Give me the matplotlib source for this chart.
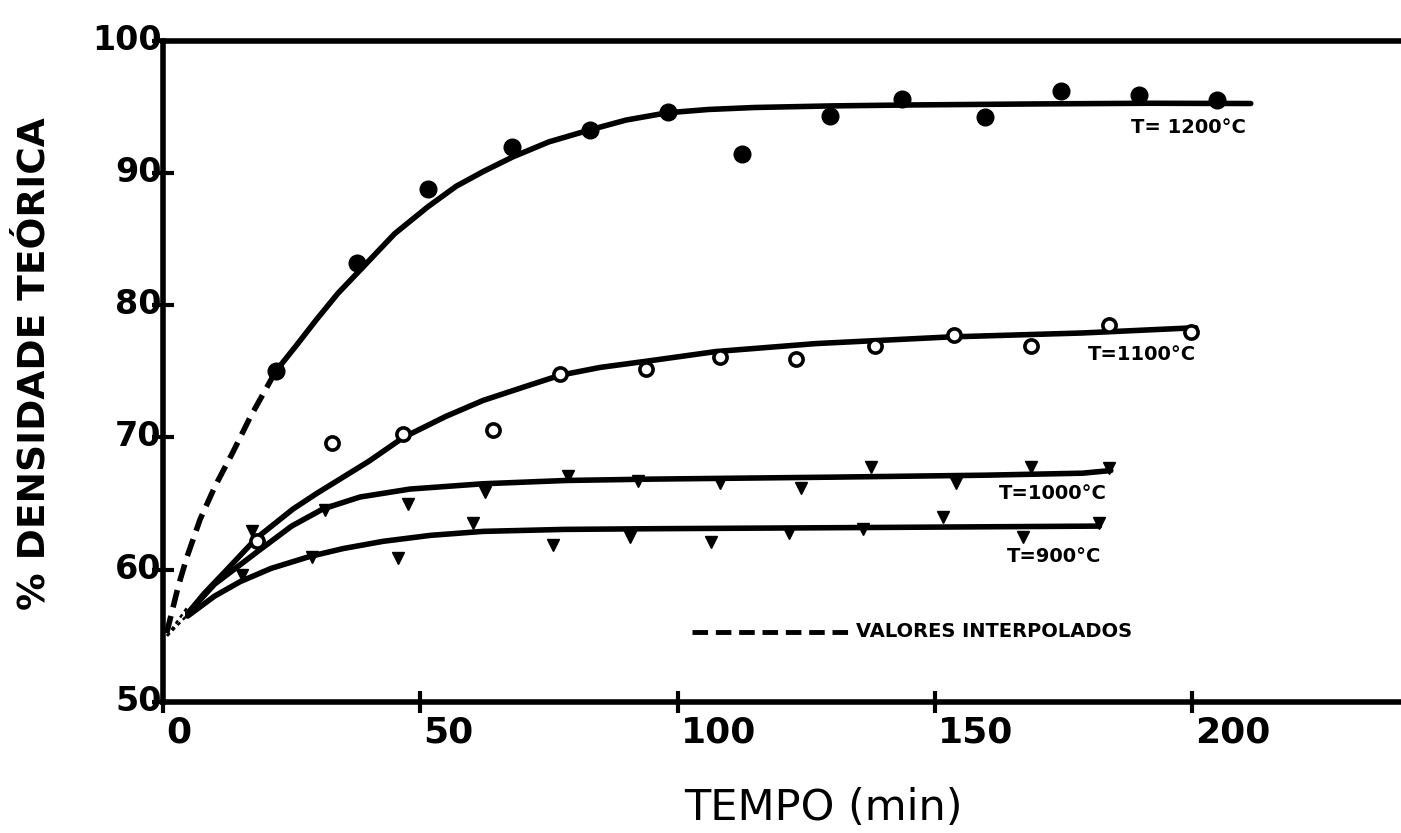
import matplotlib
matplotlib.use("Agg")
import matplotlib.pyplot as plt
import matplotlib.transforms as mtransforms

# ---------------- data ----------------
x_ticks = [0, 50, 100, 150, 200]
y_ticks = [50, 60, 70, 80, 90, 100]
x_tick_labels = ["0", "50", "100", "150", "200"]
y_tick_labels = ["50", "60", "70", "80", "90", "100"]

# measured points (time in min, % theoretical density)
t_1200 = [21.9, 37.7, 51.5, 67.9, 82.9, 98.1, 112.6, 129.7, 143.7, 159.8, 174.5, 189.7, 204.9]
d_1200 = [75.0, 83.2, 88.8, 92.0, 93.25, 94.6, 91.4, 94.3, 95.6, 94.2, 96.2, 95.9, 95.5]

t_1100 = [18.2, 32.8, 46.7, 64.1, 77.1, 93.9, 108.2, 123.0, 138.3, 153.8, 168.7, 183.9, 199.7]
d_1100 = [62.2, 69.6, 70.25, 70.6, 74.8, 75.2, 76.1, 75.9, 76.9, 77.75, 76.9, 78.5, 78.0]

t_1000 = [17.2, 31.5, 47.6, 62.5, 78.7, 92.3, 108.2, 124.0, 137.6, 154.1, 168.7, 183.9]
d_1000 = [62.9, 64.5, 65.0, 65.9, 67.05, 66.7, 66.55, 66.2, 67.8, 66.55, 67.8, 67.7]

t_900 = [15.3, 28.9, 45.7, 60.3, 75.8, 90.7, 106.5, 121.7, 136.0, 151.5, 167.1, 182.0]
d_900 = [59.6, 61.0, 60.9, 63.5, 61.9, 62.5, 62.1, 62.8, 63.1, 64.0, 62.5, 63.5]

# hand-drawn fitted curves
c1200_dash_t = [0.7, 3.0, 4.6, 7.2, 10.1, 13.6, 16.9, 21.9]
c1200_dash_d = [55.2, 58.8, 60.9, 63.8, 66.3, 68.9, 71.5, 75.0]
c1200_t = [21.9, 26.0, 29.8, 34.0, 38.9, 45.0, 51.5, 57.0, 62.2, 67.9, 75.0, 82.9,
           90.0, 98.0, 106.0, 115.0, 130.0, 145.0, 170.0, 191.7, 211.4]
c1200_d = [75.0, 77.0, 78.9, 80.9, 82.9, 85.4, 87.45, 89.0, 90.1, 91.2, 92.35, 93.25,
           94.0, 94.55, 94.8, 94.95, 95.07, 95.14, 95.22, 95.27, 95.25]

c1100_t = [4.8, 8.0, 12.4, 18.2, 25.3, 30.0, 35.0, 40.0, 46.7, 55.0, 62.2, 70.0,
           77.1, 85.0, 94.6, 107.5, 126.9, 152.8, 178.6, 200.7]
c1100_d = [56.7, 58.2, 60.0, 62.4, 64.6, 65.8, 67.0, 68.2, 70.0, 71.6, 72.8, 73.8,
           74.7, 75.3, 75.8, 76.5, 77.1, 77.6, 77.9, 78.3]

c1000_t = [4.8, 10.0, 18.8, 25.0, 31.1, 38.3, 48.0, 62.2, 78.4, 94.6, 130.0, 160.0, 178.7, 184.2]
c1000_d = [56.7, 58.9, 61.5, 63.3, 64.6, 65.5, 66.1, 66.5, 66.75, 66.85, 67.0, 67.15, 67.3, 67.5]

c900_t = [4.8, 10.0, 15.0, 21.0, 28.5, 35.0, 42.8, 52.0, 62.2, 78.0, 94.6, 140.0, 182.0]
c900_d = [56.5, 58.0, 59.1, 60.1, 61.0, 61.6, 62.15, 62.6, 62.9, 63.05, 63.1, 63.2, 63.3]

tail_t = [0.8, 4.8]
tail_d = [55.0, 56.6]

series_labels = ["T= 1200°C", "T=1100°C", "T=1000°C", "T=900°C"]
legend_text = "VALORES INTERPOLADOS"

# ---------------- drawing ----------------
W, H = 1401, 833
fig = plt.figure(figsize=(W / 100, H / 100), dpi=100)
ax = fig.add_axes([163 / W, (H - 702) / H, 1 - 163 / W, (702 - 40.7) / H])
ax.set_xlim(0, 240.6)
ax.set_ylim(50, 100)

for s in ["left", "top", "bottom"]:
    ax.spines[s].set_linewidth(4)
    ax.spines[s].set_color("black")
ax.spines["right"].set_visible(False)

ax.set_xticks(x_ticks)
ax.set_yticks(y_ticks)
ax.set_xticklabels(x_tick_labels, fontsize=26, fontweight="bold", ha="left")
ax.set_yticklabels(y_tick_labels, fontsize=24, fontweight="bold")
ax.tick_params(axis="both", direction="inout", length=16, width=3, color="black")
ax.tick_params(axis="y", pad=-7)
ax.tick_params(axis="x", pad=2)

dx = mtransforms.ScaledTranslation(3 / 100, 0, fig.dpi_scale_trans)
for lab in ax.get_xticklabels():
    lab.set_transform(lab.get_transform() + dx)
dy = mtransforms.ScaledTranslation(0, 4 / 100, fig.dpi_scale_trans)
for lab in ax.get_yticklabels():
    lab.set_transform(lab.get_transform() + dy)

lw = 4
# dotted extrapolation tails
ax.plot(tail_t, tail_d, color="black", lw=1.8, ls=(0, (1.5, 1.5)))
ax.plot([tail_t[0], tail_t[1]], [tail_d[0], tail_d[1] + 0.6], color="black", lw=1.8, ls=(0, (1.5, 1.5)))

# curves
ax.plot(c1200_dash_t, c1200_dash_d, color="black", lw=lw, ls=(0, (3.2, 1.6)), solid_capstyle="butt")
for ct, cd in [(c1200_t, c1200_d), (c1100_t, c1100_d), (c1000_t, c1000_d), (c900_t, c900_d)]:
    ax.plot(ct, cd, color="black", lw=lw, solid_joinstyle="round", solid_capstyle="round")

# measured points
ax.plot(t_1200, d_1200, ls="none", marker="o", ms=12, mfc="black", mec="black", zorder=5)
ax.plot(t_1100, d_1100, ls="none", marker="o", ms=9.5, mfc="white", mec="black", mew=2.6, zorder=5)
ax.plot(t_1000, d_1000, ls="none", marker="v", ms=9, mfc="black", mec="black", zorder=5)
ax.plot(t_900, d_900, ls="none", marker="v", ms=9, mfc="black", mec="black", zorder=5)

# curve labels
lab_kw = dict(fontsize=14, fontweight="bold", ha="right", va="center")
ax.text(210.5, 93.45, series_labels[0], **lab_kw)
ax.text(200.7, 76.25, series_labels[1], **lab_kw)
ax.text(183.5, 65.8, series_labels[2], **lab_kw)
ax.text(182.3, 61.0, series_labels[3], **lab_kw)

# legend for dashed line
ax.plot([102.9, 134.0], [55.3, 55.3], color="black", lw=3.5, ls=(0, (3.2, 1.6)))
ax.text(134.6, 55.3, legend_text, fontsize=14, fontweight="bold", ha="left", va="center")

# axis titles
fig.text(35 / W, 1 - 364 / H, "% DENSIDADE TEÓRICA", rotation=90, fontsize=27,
         fontweight="bold", ha="center", va="center")
fig.text(823 / W, 1 - 808 / H, "TEMPO (min)", fontsize=31,
         ha="center", va="center")

fig.savefig("out.png", dpi=100)
